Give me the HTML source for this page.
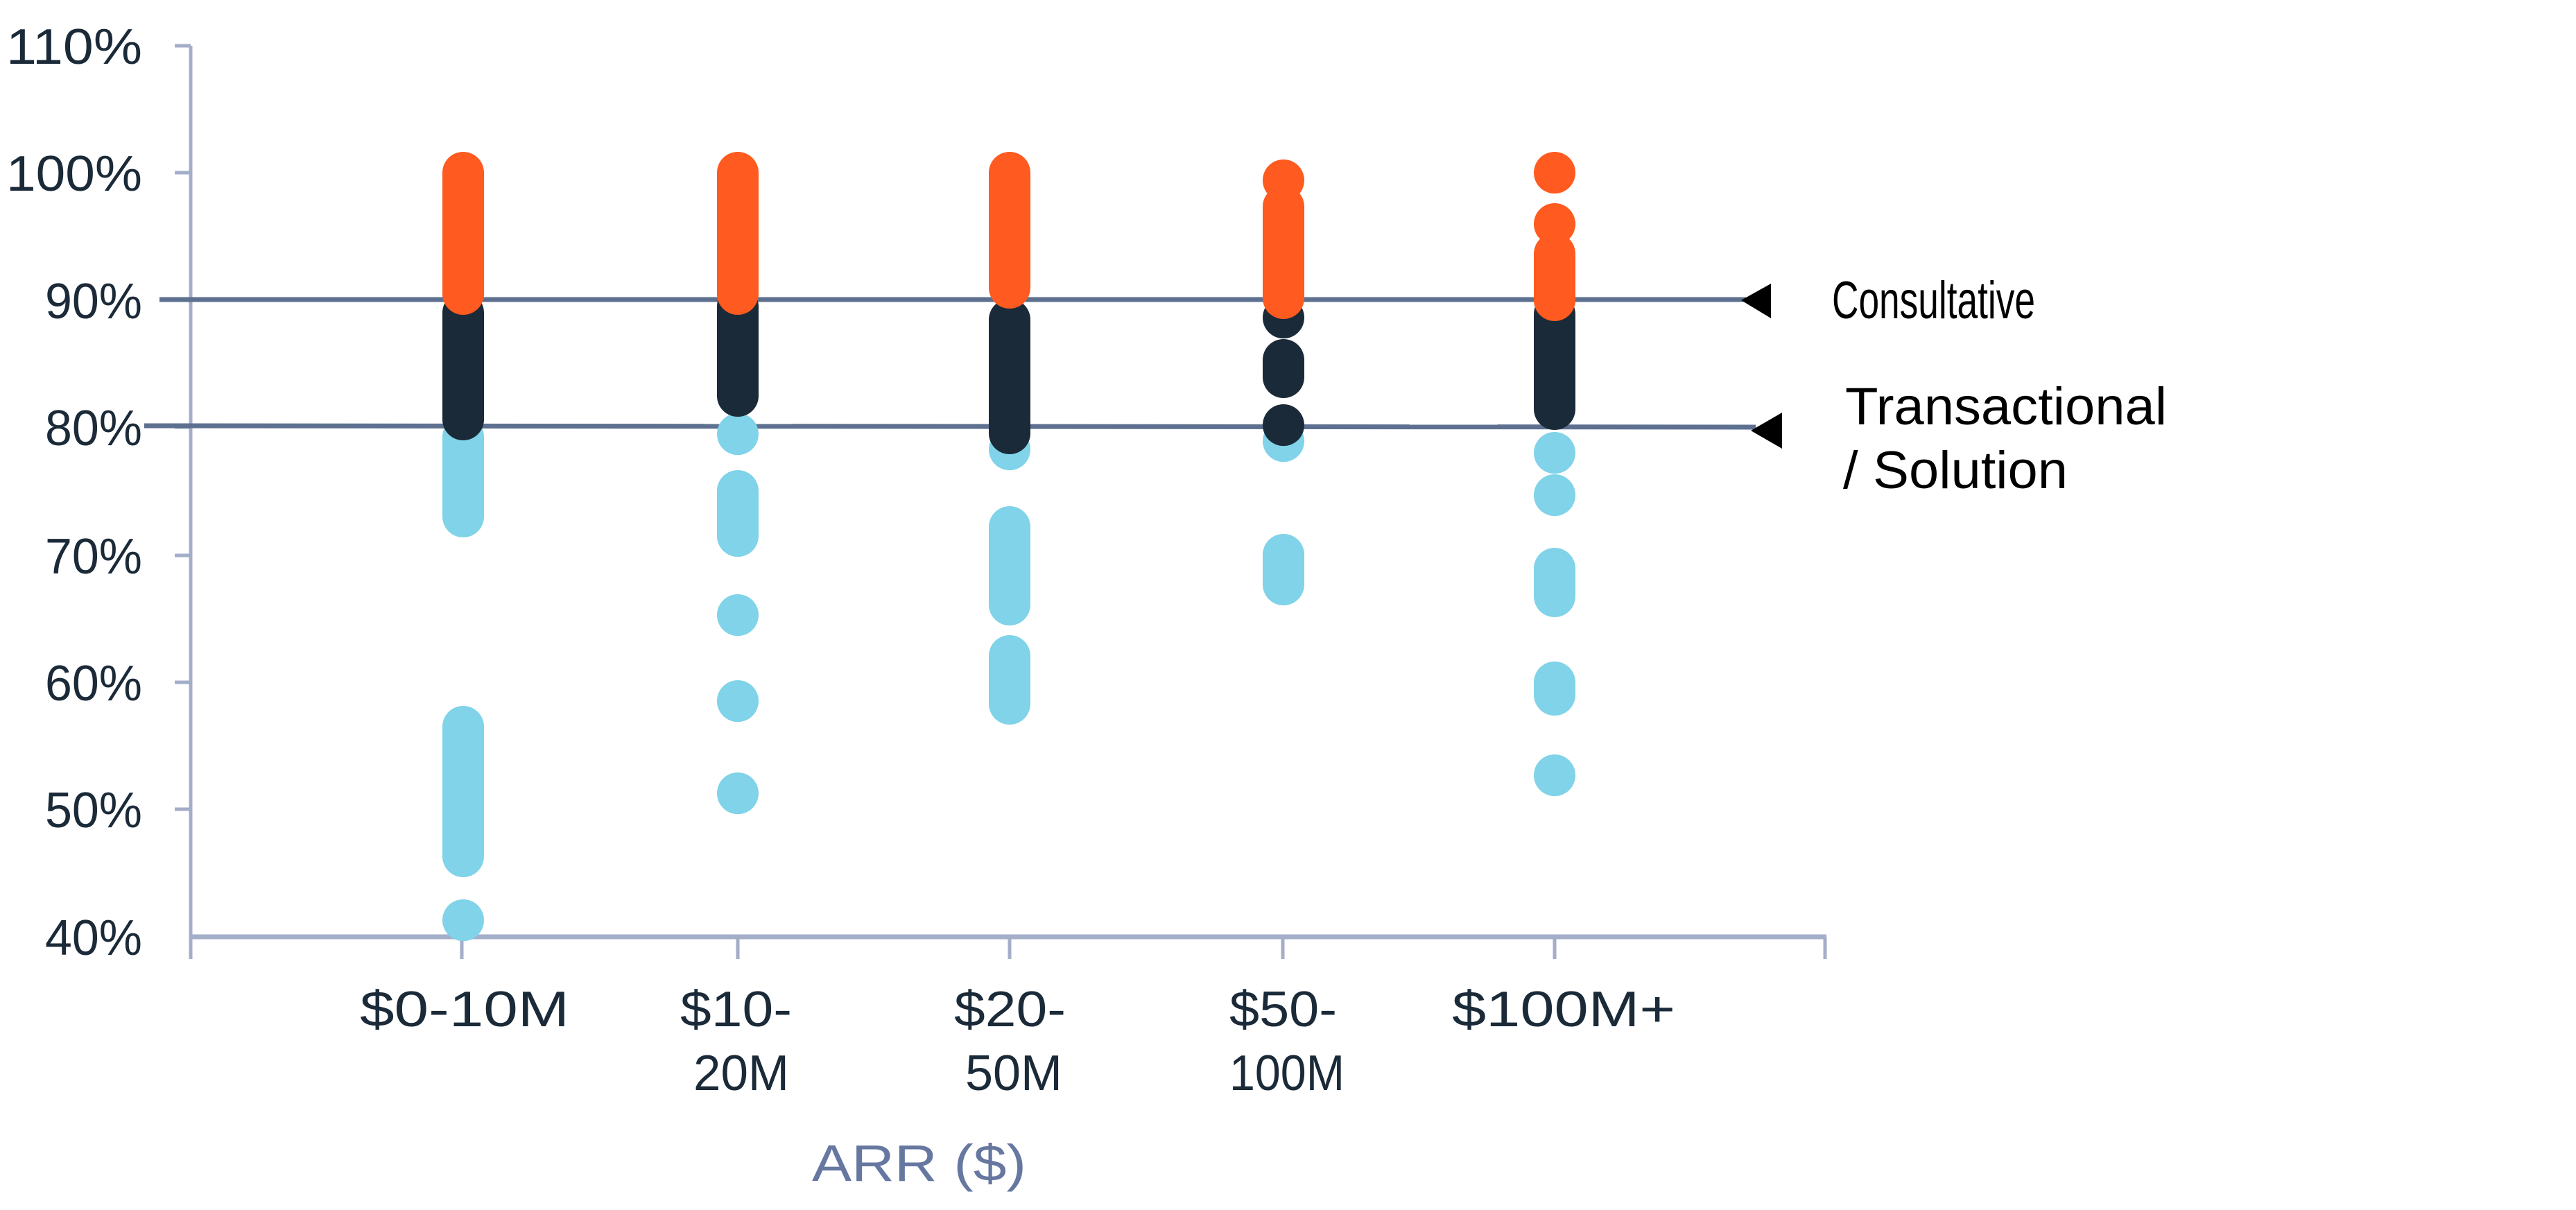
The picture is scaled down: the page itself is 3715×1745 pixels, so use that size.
<!DOCTYPE html>
<html><head><meta charset="utf-8"><style>
html,body{margin:0;padding:0;background:#fff;}
svg{display:block;}
text{font-family:"Liberation Sans",sans-serif;}
</style></head><body>
<svg width="3715" height="1745" viewBox="0 0 3715 1745" xmlns="http://www.w3.org/2000/svg">
<rect width="3715" height="1745" fill="#fff"/>
<g stroke="#a4aec9" stroke-width="5">
<line x1="275" y1="66" x2="275" y2="1351"/>
<line x1="252" y1="66" x2="275" y2="66"/>
<line x1="252" y1="249" x2="275" y2="249"/>
<line x1="252" y1="433" x2="275" y2="433"/>
<line x1="252" y1="616" x2="275" y2="616"/>
<line x1="252" y1="801" x2="275" y2="801"/>
<line x1="252" y1="984" x2="275" y2="984"/>
<line x1="252" y1="1167" x2="275" y2="1167"/>
<line x1="273" y1="1351" x2="2634" y2="1351" stroke-width="7"/>
<line x1="275" y1="1351" x2="275" y2="1383"/>
<line x1="666" y1="1351" x2="666" y2="1383"/>
<line x1="1064" y1="1351" x2="1064" y2="1383"/>
<line x1="1456" y1="1351" x2="1456" y2="1383"/>
<line x1="1850" y1="1351" x2="1850" y2="1383"/>
<line x1="2242" y1="1351" x2="2242" y2="1383"/>
<line x1="2632" y1="1351" x2="2632" y2="1383"/>
</g>
<g stroke="#5d7090" stroke-width="7">
<line x1="230" y1="432" x2="2518" y2="432"/>
<line x1="208" y1="614" x2="2532" y2="616"/>
</g>
<polygon points="2511,433 2554,409 2554,459" fill="#000"/>
<polygon points="2525,621 2570,595 2570,647" fill="#000"/>
<g font-size="72" fill="#1b2a38" text-anchor="end">
<text x="205" y="92" textLength="196" lengthAdjust="spacingAndGlyphs">110%</text>
<text x="205" y="275" textLength="196" lengthAdjust="spacingAndGlyphs">100%</text>
<text x="205" y="459" textLength="140" lengthAdjust="spacingAndGlyphs">90%</text>
<text x="205" y="642" textLength="140" lengthAdjust="spacingAndGlyphs">80%</text>
<text x="205" y="827" textLength="140" lengthAdjust="spacingAndGlyphs">70%</text>
<text x="205" y="1010" textLength="140" lengthAdjust="spacingAndGlyphs">60%</text>
<text x="205" y="1193" textLength="140" lengthAdjust="spacingAndGlyphs">50%</text>
<text x="205" y="1377" textLength="140" lengthAdjust="spacingAndGlyphs">40%</text>
</g>
<g font-size="72" fill="#1b2a38">
<text x="519" y="1480" textLength="302" lengthAdjust="spacingAndGlyphs">$0-10M</text>
<text x="981" y="1480" textLength="161" lengthAdjust="spacingAndGlyphs">$10-</text><text x="1000" y="1572" textLength="138" lengthAdjust="spacingAndGlyphs">20M</text>
<text x="1376" y="1480" textLength="161" lengthAdjust="spacingAndGlyphs">$20-</text><text x="1392" y="1572" textLength="140" lengthAdjust="spacingAndGlyphs">50M</text>
<text x="1773" y="1480" textLength="155" lengthAdjust="spacingAndGlyphs">$50-</text><text x="1773" y="1572" textLength="166" lengthAdjust="spacingAndGlyphs">100M</text>
<text x="2094" y="1480" textLength="322" lengthAdjust="spacingAndGlyphs">$100M+</text>
</g>
<text x="1171" y="1703" font-size="74" fill="#6677a0" textLength="309" lengthAdjust="spacingAndGlyphs">ARR ($)</text>
<g font-size="76" fill="#000">
<text x="2642" y="459" textLength="293" lengthAdjust="spacingAndGlyphs">Consultative</text>
<text x="2661" y="612" textLength="464" lengthAdjust="spacingAndGlyphs">Transactional</text>
<text x="2658" y="704" textLength="324" lengthAdjust="spacingAndGlyphs">/ Solution</text>
</g>
<g stroke-width="60" stroke-linecap="round" fill="none">
<g stroke="#80d3e8">
<line x1="668" y1="630" x2="668" y2="745"/>
<line x1="668" y1="1048" x2="668" y2="1235"/>
<line x1="668" y1="1327" x2="668" y2="1327.1"/>
</g>
<line x1="668" y1="451" x2="668" y2="605" stroke="#1b2a38"/>
<line x1="668" y1="249" x2="668" y2="424" stroke="#ff5a1f"/>
<g stroke="#80d3e8">
<line x1="1064" y1="626" x2="1064" y2="626.1"/>
<line x1="1064" y1="708" x2="1064" y2="773"/>
<line x1="1064" y1="887" x2="1064" y2="887.1"/>
<line x1="1064" y1="1011" x2="1064" y2="1011.1"/>
<line x1="1064" y1="1144" x2="1064" y2="1144.1"/>
</g>
<line x1="1064" y1="442" x2="1064" y2="571" stroke="#1b2a38"/>
<line x1="1064" y1="249" x2="1064" y2="424" stroke="#ff5a1f"/>
<g stroke="#80d3e8">
<line x1="1456" y1="648" x2="1456" y2="648.1"/>
<line x1="1456" y1="760" x2="1456" y2="872"/>
<line x1="1456" y1="946" x2="1456" y2="1015"/>
</g>
<line x1="1456" y1="461" x2="1456" y2="625" stroke="#1b2a38"/>
<line x1="1456" y1="249" x2="1456" y2="415" stroke="#ff5a1f"/>
<g stroke="#80d3e8">
<line x1="1851" y1="636" x2="1851" y2="636.1"/>
<line x1="1851" y1="800" x2="1851" y2="843"/>
</g>
<g stroke="#1b2a38">
<line x1="1851" y1="458" x2="1851" y2="458.1"/>
<line x1="1851" y1="519" x2="1851" y2="544"/>
<line x1="1851" y1="613" x2="1851" y2="613.1"/>
</g>
<g stroke="#ff5a1f">
<line x1="1851" y1="260" x2="1851" y2="260.1"/>
<line x1="1851" y1="298" x2="1851" y2="430"/>
</g>
<g stroke="#80d3e8">
<line x1="2242" y1="653" x2="2242" y2="653.1"/>
<line x1="2242" y1="714" x2="2242" y2="714.1"/>
<line x1="2242" y1="820" x2="2242" y2="860"/>
<line x1="2242" y1="984" x2="2242" y2="1002"/>
<line x1="2242" y1="1118" x2="2242" y2="1118.1"/>
</g>
<line x1="2242" y1="453" x2="2242" y2="590" stroke="#1b2a38"/>
<g stroke="#ff5a1f">
<line x1="2242" y1="249" x2="2242" y2="249.1"/>
<line x1="2242" y1="323" x2="2242" y2="323.1"/>
<line x1="2242" y1="366" x2="2242" y2="433"/>
</g>
</g>
</svg>
</body></html>
